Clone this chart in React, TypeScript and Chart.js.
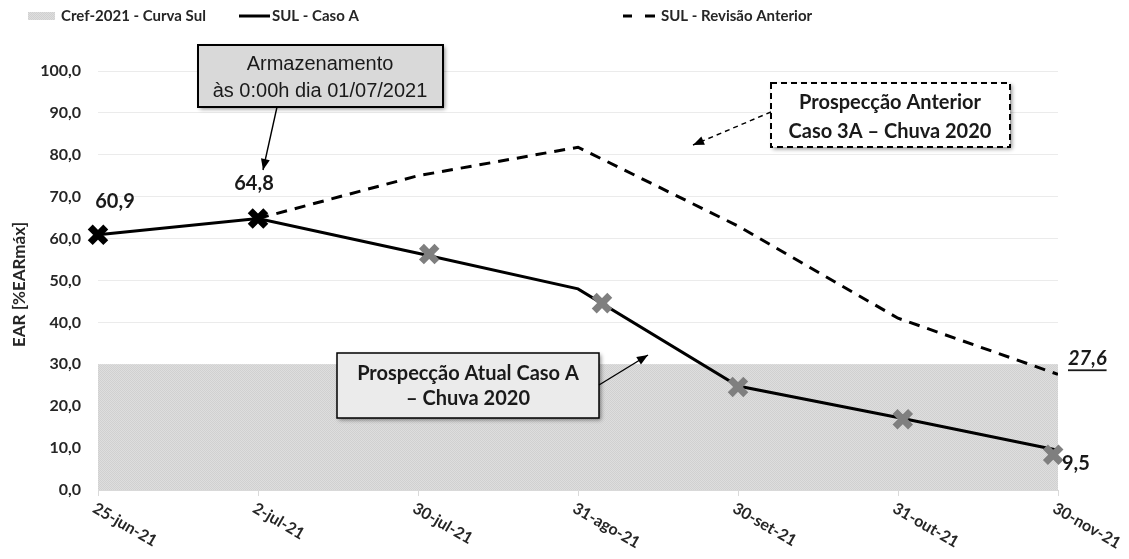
import React, { useEffect, useRef } from 'react';
import { Chart, registerables } from 'chart.js';

Chart.register(...registerables);

const categories = ['25-jun-21', '2-jul-21', '30-jul-21', '31-ago-21', '30-set-21', '31-out-21', '30-nov-21'];
const crefValues = [30, 30, 30, 30, 30, 30, 30];
const casoAValues = [60.9, 64.8, 56.5, 48.0, 24.8, 17.3, 9.5];
const revisaoValues: (number | null)[] = [null, 64.8, 75.0, 81.8, 63.0, 41.0, 27.6];
const markerX = [2.07, 3.15, 4.0, 5.03, 5.97];
const markerValues = [56.3, 44.6, 24.6, 16.9, 8.4];
const blackMarkerRadius = [11, 11, 0, 0, 0, 0, 0];
const yMin = 0;
const yMax = 100;
const yStep = 10;

function makePattern(): CanvasPattern | string {
  const c = document.createElement('canvas');
  c.width = 2;
  c.height = 2;
  const g = c.getContext('2d');
  if (!g) return '#d6d6d6';
  g.fillStyle = '#dedede';
  g.fillRect(0, 0, 2, 2);
  g.fillStyle = '#d0d0d0';
  g.fillRect(0, 0, 1, 1);
  g.fillRect(1, 1, 1, 1);
  const p = g.createPattern(c, 'repeat');
  return p || '#d6d6d6';
}

function arrow(ctx: CanvasRenderingContext2D, x1: number, y1: number, x2: number, y2: number, dash: number[] = []) {
  ctx.save();
  ctx.strokeStyle = '#000';
  ctx.fillStyle = '#000';
  ctx.lineWidth = 1.4;
  ctx.setLineDash(dash);
  ctx.beginPath();
  ctx.moveTo(x1, y1);
  ctx.lineTo(x2, y2);
  ctx.stroke();
  ctx.setLineDash([]);
  const a = Math.atan2(y2 - y1, x2 - x1);
  const L = 11, W = 4.5;
  ctx.beginPath();
  ctx.moveTo(x2, y2);
  ctx.lineTo(x2 - L * Math.cos(a) + W * Math.sin(a), y2 - L * Math.sin(a) - W * Math.cos(a));
  ctx.lineTo(x2 - L * Math.cos(a) - W * Math.sin(a), y2 - L * Math.sin(a) + W * Math.cos(a));
  ctx.closePath();
  ctx.fill();
  ctx.restore();
}

function box(ctx: CanvasRenderingContext2D, x1: number, y1: number, x2: number, y2: number, fill: string, dashed: boolean, lw: number) {
  ctx.save();
  ctx.shadowColor = 'rgba(0,0,0,0.45)';
  ctx.shadowBlur = 4;
  ctx.shadowOffsetX = 2;
  ctx.shadowOffsetY = 2;
  ctx.fillStyle = fill;
  ctx.fillRect(x1, y1, x2 - x1, y2 - y1);
  ctx.restore();
  ctx.save();
  ctx.strokeStyle = '#000';
  ctx.lineWidth = lw;
  if (dashed) ctx.setLineDash([6, 4]);
  ctx.strokeRect(x1, y1, x2 - x1, y2 - y1);
  ctx.restore();
}

const overlayPlugin = {
  id: 'overlay',
  afterDraw(chart: any) {
    const ctx: CanvasRenderingContext2D = chart.ctx;
    const area = chart.chartArea;
    const xs = chart.scales.x;

    // X labels rotated clockwise
    ctx.save();
    ctx.font = 'bold 16px Lato';
    ctx.fillStyle = '#262626';
    ctx.textAlign = 'left';
    ctx.textBaseline = 'top';
    categories.forEach((c, i) => {
      const px = xs.getPixelForValue(i);
      ctx.save();
      ctx.translate(px, area.bottom + 10);
      ctx.rotate((30 * Math.PI) / 180);
      ctx.fillText(c, 0, 0);
      ctx.restore();
    });
    ctx.restore();

    // Y title
    ctx.save();
    ctx.font = 'bold 17px Lato';
    ctx.fillStyle = '#262626';
    ctx.textAlign = 'center';
    ctx.textBaseline = 'middle';
    ctx.translate(12, (area.top + area.bottom) / 2 + 4);
    ctx.rotate(-Math.PI / 2);
    ctx.fillText('EAR [%EARmáx]', 0, 0);
    ctx.restore();

    // Legend
    ctx.save();
    ctx.font = 'bold 15px Lato';
    ctx.fillStyle = '#262626';
    ctx.textBaseline = 'middle';
    ctx.textAlign = 'left';
    const ly = 8;
    const pat = makePattern();
    ctx.fillStyle = pat as any;
    ctx.fillRect(20, ly - 4, 27, 8);
    ctx.fillStyle = '#262626';
    ctx.fillText('Cref-2021 - Curva Sul', 53, ly);
    ctx.strokeStyle = '#000';
    ctx.lineWidth = 3;
    ctx.beginPath();
    ctx.moveTo(231, ly);
    ctx.lineTo(262, ly);
    ctx.stroke();
    ctx.fillText('SUL - Caso A', 264, ly);
    ctx.beginPath();
    ctx.moveTo(615, ly);
    ctx.lineTo(624, ly);
    ctx.moveTo(637, ly);
    ctx.lineTo(647, ly);
    ctx.stroke();
    ctx.fillText('SUL - Revisão Anterior', 653, ly);
    ctx.restore();

    // Data labels
    const metaA = chart.getDatasetMeta(1);
    const metaR = chart.getDatasetMeta(2);
    ctx.save();
    ctx.font = 'bold 20px Lato';
    ctx.fillStyle = '#1a1a1a';
    ctx.textBaseline = 'middle';
    ctx.textAlign = 'center';
    const fmt = (v: number) => v.toFixed(1).replace('.', ',');
    const p0 = metaA.data[0];
    ctx.fillText(fmt(casoAValues[0]), p0.x + 17, p0.y - 33);
    const p1 = metaA.data[1];
    ctx.fillText(fmt(casoAValues[1]), p1.x - 4, p1.y - 35);
    const p6 = metaA.data[6];
    ctx.textAlign = 'left';
    ctx.fillText(fmt(casoAValues[6]), p6.x + 4, p6.y + 13);
    const r6 = metaR.data[6];
    ctx.font = 'italic bold 20px Lato';
    const t = fmt(revisaoValues[6] as number);
    ctx.textBaseline = 'alphabetic';
    ctx.fillText(t, r6.x + 10, r6.y - 9);
    const w = ctx.measureText(t).width;
    ctx.fillRect(r6.x + 10, r6.y - 5, w, 1.8);
    ctx.restore();

    // Annotation 1
    box(ctx, 190, 37, 435, 99, '#d9d9d9', false, 2);
    ctx.save();
    ctx.font = '20px "Liberation Sans", Arial, sans-serif';
    ctx.fillStyle = '#1a1a1a';
    ctx.textAlign = 'center';
    ctx.textBaseline = 'middle';
    ctx.fillText('Armazenamento', 312, 56);
    ctx.fillText('às 0:00h dia 01/07/2021', 312, 83);
    ctx.restore();
    arrow(ctx, 269, 99, 255, 162);

    // Annotation 2
    box(ctx, 763, 75, 1002, 139, '#ffffff', true, 2);
    ctx.save();
    ctx.font = 'bold 20px Lato';
    ctx.fillStyle = '#1a1a1a';
    ctx.textAlign = 'center';
    ctx.textBaseline = 'middle';
    ctx.fillText('Prospecção Anterior', 882, 95);
    ctx.fillText('Caso 3A – Chuva 2020', 882, 124);
    ctx.restore();
    arrow(ctx, 763, 104, 685, 137, [5, 4]);

    // Annotation 3
    box(ctx, 329, 345, 591, 410, '#ebebeb', false, 1.5);
    ctx.save();
    ctx.font = 'bold 20px Lato';
    ctx.fillStyle = '#1a1a1a';
    ctx.textAlign = 'center';
    ctx.textBaseline = 'middle';
    ctx.fillText('Prospecção Atual Caso A', 460, 366);
    ctx.fillText('– Chuva 2020', 460, 391);
    ctx.restore();
    arrow(ctx, 591, 377, 640, 347);
  },
};

export default function App() {
  const ref = useRef<HTMLCanvasElement | null>(null);

  useEffect(() => {
    if (!ref.current) return;
    Chart.defaults.font.family = 'Lato';
    const pattern = makePattern();
    const chart = new Chart(ref.current, {
      type: 'line',
      data: {
        datasets: [
          {
            label: 'Marcadores',
            data: markerX.map((x, i) => ({ x, y: markerValues[i] })),
            showLine: false,
            pointStyle: 'crossRot',
            pointRadius: 11,
            pointBorderWidth: 7,
            pointBorderColor: '#7f7f7f',
            pointBackgroundColor: '#7f7f7f',
            borderColor: '#7f7f7f',
            clip: false,
            order: 0,
          },
          {
            label: 'SUL - Caso A',
            data: casoAValues.map((v, i) => ({ x: i, y: v })),
            borderColor: '#000',
            borderWidth: 3,
            pointStyle: 'crossRot',
            pointRadius: blackMarkerRadius,
            pointBorderWidth: 7,
            pointBorderColor: '#000',
            fill: false,
            tension: 0,
            clip: false,
            order: 1,
          },
          {
            label: 'SUL - Revisão Anterior',
            data: revisaoValues.map((v, i) => ({ x: i, y: v })),
            borderColor: '#000',
            borderWidth: 3,
            borderDash: [11, 8],
            pointRadius: 0,
            fill: false,
            spanGaps: false,
            tension: 0,
            order: 2,
          },
          {
            label: 'Cref-2021 - Curva Sul',
            data: crefValues.map((v, i) => ({ x: i, y: v })),
            borderWidth: 0,
            borderColor: 'rgba(0,0,0,0)',
            backgroundColor: pattern as any,
            fill: 'origin',
            pointRadius: 0,
            order: 3,
          },
        ],
      },
      options: {
        animation: false,
        responsive: true,
        maintainAspectRatio: false,
        layout: { padding: { top: 63, right: 63, left: 0, bottom: 0 } },
        plugins: {
          legend: { display: false },
          tooltip: { enabled: false },
        },
        scales: {
          x: {
            type: 'linear',
            min: 0,
            max: categories.length - 1,
            ticks: { stepSize: 1, display: false },
            grid: { display: true, drawOnChartArea: false, drawTicks: true, tickLength: 6, color: '#d9d9d9' },
            border: { display: true, color: '#d9d9d9' },
            afterFit: (s: any) => {
              s.height = 61;
            },
          },
          y: {
            min: yMin,
            max: yMax,
            ticks: {
              stepSize: yStep,
              padding: 17,
              color: '#262626',
              font: { family: 'Lato', size: 16, weight: 'bold' },
              callback: (v: any) => Number(v).toFixed(1).replace('.', ','),
            },
            grid: { color: '#ebebeb', drawTicks: false },
            border: { display: false },
            afterFit: (s: any) => {
              s.width = 90;
            },
          },
        },
      },
      plugins: [overlayPlugin],
    });
    return () => chart.destroy();
  }, []);

  return (
    <div style={{ width: 1113, height: 543, position: 'relative' }}>
      <canvas ref={ref} />
    </div>
  );
}
